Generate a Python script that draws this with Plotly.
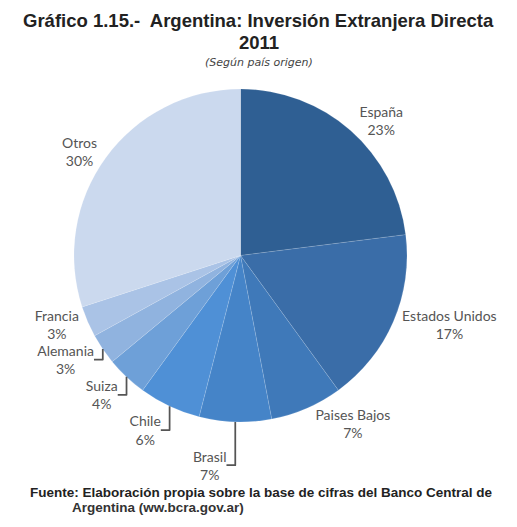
import plotly.graph_objects as go

paises = ["España", "Estados Unidos", "Paises Bajos", "Brasil", "Chile", "Suiza", "Alemania", "Francia", "Otros"]
valores = [23, 17, 7, 7, 6, 4, 3, 3, 30]
colores = ["#2f5f93", "#3a6da8", "#3f79b9", "#4584c8", "#4f90d6", "#6ea0d8", "#90b3df", "#aac3e6", "#cbd9ee"]

W, H = 517, 527

fig = go.Figure(go.Pie(
    labels=paises,
    values=valores,
    sort=False,
    direction="clockwise",
    rotation=0,
    marker=dict(colors=colores, line=dict(color="rgba(255,255,255,0.25)", width=0.5)),
    textposition="outside",
    texttemplate="%{label}<br>%{percent:.0%}",
    textfont=dict(family="Lato, Open Sans, sans-serif", size=14, color="#555555"),
    domain=dict(x=[74/W, 407/W], y=[1-422/H, 1-89/H]),
    showlegend=False,
    hoverinfo="label+percent",
))

fam = "Liberation Sans, Arial, sans-serif"
annotations = [
    dict(text="<b>Gráfico 1.15.-  Argentina: Inversión Extranjera Directa</b>", x=0.5, y=1-21/H,
         font=dict(size=18.5, family=fam, color="#222222")),
    dict(text="<b>2011</b>", x=0.5, y=1-42/H,
         font=dict(size=18.5, family=fam, color="#222222")),
    dict(text="<i>(Según país origen)</i>", x=0.5, y=1-62/H,
         font=dict(size=11, family="DejaVu Sans, sans-serif", color="#444444")),
    dict(text="<b>Fuente: Elaboración propia sobre la base de cifras del Banco Central de</b>", x=28/W, y=1-492/H,
         xanchor="left", font=dict(size=13.5, family=fam, color="#222222")),
    dict(text="<b>Argentina (ww.bcra.gov.ar)</b>", x=70/W, y=1-507/H,
         xanchor="left", font=dict(size=13.5, family=fam, color="#333333")),
]
for a in annotations:
    a.update(xref="paper", yref="paper", showarrow=False, yanchor="middle")
    a.setdefault("xanchor", "center")

fig.update_layout(
    width=W, height=H,
    margin=dict(l=0, r=0, t=0, b=0),
    paper_bgcolor="white",
    plot_bgcolor="white",
    annotations=annotations,
)

fig.write_html("out.html", config={"displayModeBar": False},
               post_script="document.body.style.margin='0';")
